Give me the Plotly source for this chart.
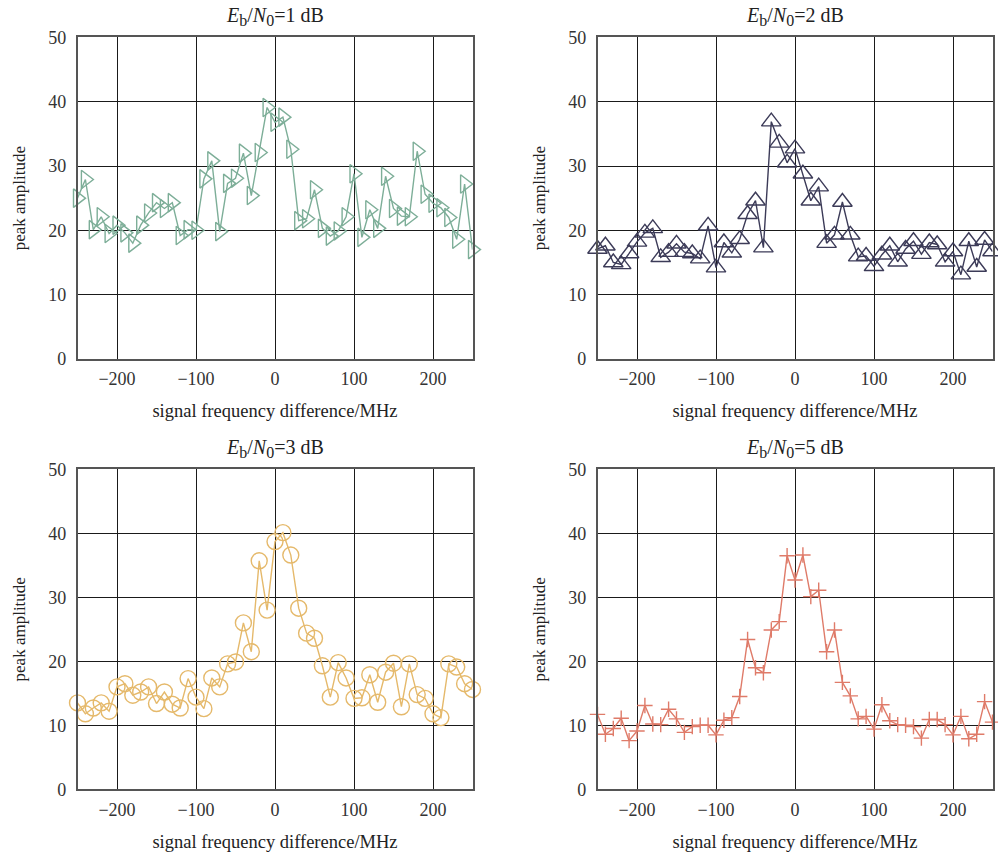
import plotly.graph_objects as go

freq = list(range(-250, 251, 10))

amp_1db = [25.0, 27.9, 20.1, 22.1, 19.5, 20.8, 19.6, 18.0, 20.8, 22.7,
           24.3, 23.4, 24.3, 19.2, 20.1, 20.0, 28.0, 30.8, 19.8, 27.3,
           28.1, 32.0, 25.4, 32.1, 39.1, 36.8, 37.6, 32.6, 21.5, 21.8,
           26.3, 20.3, 19.1, 19.9, 22.1, 28.8, 18.9, 23.2, 20.3, 28.4,
           23.4, 22.2, 22.1, 32.3, 25.6, 24.2, 23.5, 22.0, 18.6, 27.2,
           17.0]

amp_2db = [17.1, 17.6, 15.0, 14.7, 16.4, 18.2, 19.6, 20.3, 15.8, 16.6,
           17.9, 16.6, 16.4, 15.6, 20.7, 14.2, 18.1, 16.5, 18.6, 22.5,
           24.6, 17.3, 36.9, 33.6, 30.5, 32.7, 28.8, 24.6, 26.8, 18.0,
           19.3, 24.4, 19.3, 15.9, 16.0, 14.4, 16.2, 17.6, 15.1, 17.1,
           18.3, 16.3, 18.1, 17.8, 15.1, 16.7, 13.1, 18.3, 14.3, 18.5,
           16.7]

amp_3db = [13.5, 11.8, 12.7, 13.5, 12.2, 16.0, 16.5, 14.7, 15.2, 16.0,
           13.4, 15.2, 13.3, 12.7, 17.3, 14.4, 12.6, 17.4, 16.0, 19.6,
           19.9, 26.0, 21.5, 35.7, 28.0, 38.7, 40.1, 36.6, 28.3, 24.4,
           23.6, 19.3, 14.4, 19.8, 17.4, 14.2, 14.3, 17.9, 13.6, 18.3,
           19.7, 12.9, 19.6, 14.8, 14.2, 11.8, 11.2, 19.6, 19.1, 16.5,
           15.6]

amp_5db = [11.7, 8.6, 9.5, 11.1, 7.6, 9.1, 13.1, 10.2, 10.1, 12.5,
           11.0, 8.9, 9.8, 10.0, 10.0, 8.5, 10.8, 11.2, 14.5, 23.4,
           19.0, 18.2, 24.9, 26.2, 36.5, 32.7, 36.6, 30.1, 31.1, 21.5,
           24.9, 16.7, 14.6, 11.0, 11.4, 9.4, 13.2, 10.7, 10.1, 10.0,
           9.8, 8.0, 10.9, 10.9, 10.1, 8.5, 11.4, 7.9, 8.6, 13.7,
           10.5]

SUB = "<sub><span style='font-size:16px'>{}</span></sub>"
titles = ["<i>E</i>" + SUB.format("b") + "/<i>N</i>" + SUB.format("0") + "=1 dB",
          "<i>E</i>" + SUB.format("b") + "/<i>N</i>" + SUB.format("0") + "=2 dB",
          "<i>E</i>" + SUB.format("b") + "/<i>N</i>" + SUB.format("0") + "=3 dB",
          "<i>E</i>" + SUB.format("b") + "/<i>N</i>" + SUB.format("0") + "=5 dB"]
x_title = "signal frequency difference/MHz"
y_title = "peak amplitude"
x_ticks = [-200, -100, 0, 100, 200]
y_ticks = [0, 10, 20, 30, 40, 50]

series = [amp_1db, amp_2db, amp_3db, amp_5db]
colors = ["#7dae98", "#3c3b58", "#e5b96b", "#df7b69"]
symbols = ["triangle-right-open", "triangle-up-open", "circle-open", "cross-thin"]
sizes = [16, 17, 16, 11]

W, H = 998, 858
FONT = "Liberation Serif, Times New Roman, serif"

xdom = [[77.5 / W, 472.5 / W], [597.5 / W, 992.5 / W]]
ydom = [[1 - 358.9 / H, 1 - 37.4 / H], [1 - 789.3 / H, 1 - 469.3 / H]]

fig = go.Figure()
layout = dict(
    width=W, height=H,
    margin=dict(l=0, r=0, t=0, b=0, autoexpand=False),
    paper_bgcolor="white", plot_bgcolor="white",
    showlegend=False,
    font=dict(family=FONT, size=18, color="#222"),
)

annotations = []
for i in range(4):
    row, col = divmod(i, 2)
    ax = "" if i == 0 else str(i + 1)
    fig.add_trace(go.Scatter(
        x=freq, y=series[i], mode="lines+markers",
        line=dict(color=colors[i], width=1.4),
        marker=dict(symbol=symbols[i], size=sizes[i], color=colors[i],
                    line=dict(color=colors[i], width=1.4)),
        xaxis="x" + ax, yaxis="y" + ax,
        cliponaxis=False,
    ))
    common = dict(showgrid=True, gridcolor="#1a1a1a", gridwidth=1.2,
                  showline=True, linecolor="#555", linewidth=1.5, mirror=True,
                  zeroline=False, ticks="", automargin=False,
                  tickfont=dict(family=FONT, size=18, color="#333"))
    layout["xaxis" + ax] = dict(
        domain=xdom[col], range=[-250, 250], tickvals=x_ticks,
        anchor="y" + ax, ticklabelstandoff=3,
        title=dict(text=x_title, standoff=16, font=dict(family=FONT, size=18.5, color="#222")),
        **common)
    layout["yaxis" + ax] = dict(
        domain=ydom[row], range=[0, 50], tickvals=y_ticks,
        anchor="x" + ax, ticklabelstandoff=6,
        title=dict(text=y_title, standoff=18, font=dict(family=FONT, size=17, color="#222")),
        **common)
    annotations.append(dict(
        text=titles[i], xref="x" + ax + " domain", yref="y" + ax + " domain",
        x=0.5, y=1.0, yshift=21, showarrow=False, xanchor="center", yanchor="middle",
        font=dict(family=FONT, size=20, color="#222")))

layout["annotations"] = annotations
fig.update_layout(**layout)
fig.write_html("out.html", config={"displayModeBar": False},
               post_script="document.body.style.margin='0';")
